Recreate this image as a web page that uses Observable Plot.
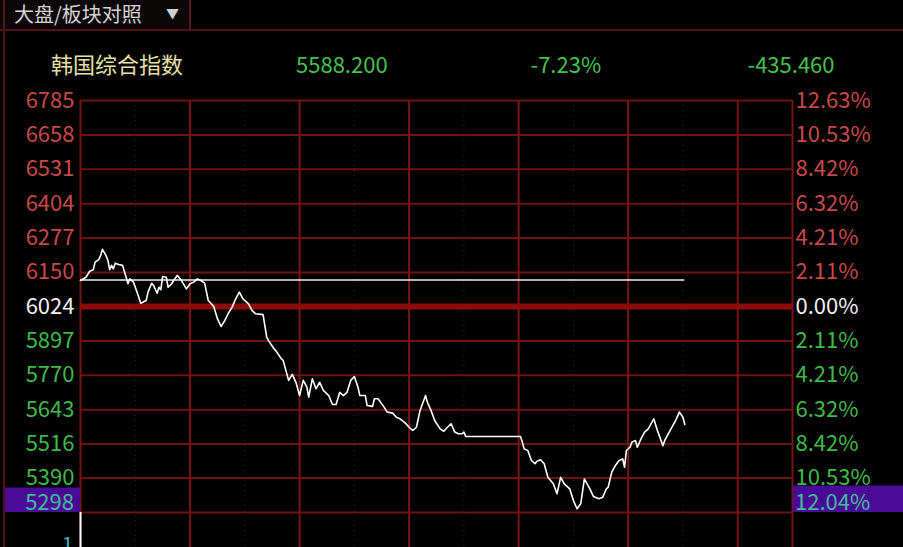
<!DOCTYPE html>
<html><head><meta charset="utf-8">
<script src="https://cdn.jsdelivr.net/npm/d3@7"></script>
<script src="https://cdn.jsdelivr.net/npm/@observablehq/plot@0.6"></script>
<style>
html,body{margin:0;padding:0;background:#000;}
#wrap{position:relative;width:903px;height:547px;overflow:hidden;background:#000;font-family:"Noto Sans CJK SC","Noto Sans",sans-serif;}
#wrap svg{position:absolute;left:0;top:0;}
.hdr{position:absolute;white-space:nowrap;line-height:1;}
</style></head><body><div id="wrap"></div>
<script>
// ---- header texts ----
const panelTitle = "大盘/板块对照";
const indexName = "韩国综合指数";
const lastPrice = "5588.200";
const changePct = "-7.23%";
const changeAbs = "-435.460";

// ---- intraday series: minutes after 09:00, index level ----
const minutes = [0,3,5,7,8,10,11,12,14,15,16,17,18,19,21,23,25,26,27,29,31,33,36,37,39,40,42,43,44,45,47,48,50,51,53,55,58,60,62,64,66,68,70,73,75,77,79,81,83,85,87,89,92,94,96,100,102,103,106,107,110,111,114,116,118,120,122,124,125,127,129,131,133,136,138,140,142,144,146,148,150,152,153,156,157,160,161,163,166,168,171,173,175,178,180,182,184,186,189,190,192,194,197,199,201,203,205,207,209,210,211,241,242,243,245,247,249,250,252,254,256,259,261,263,265,268,270,272,274,276,279,281,284,286,288,289,291,293,295,297,298,299,301,302,304,305,307,309,311,314,316,319,320,323,326,328,330,331];
const prices = [6120,6132,6154,6160,6188,6197,6212,6235,6212,6194,6160,6176,6163,6184,6179,6176,6132,6108,6126,6114,6077,6036,6046,6077,6110,6102,6073,6095,6086,6135,6132,6095,6108,6120,6139,6123,6089,6108,6114,6126,6120,6110,6046,6024,5979,5950,5972,5999,6021,6052,6077,6052,6034,6009,5997,5994,5911,5898,5868,5861,5831,5825,5751,5773,5744,5695,5751,5726,5689,5757,5720,5744,5714,5695,5662,5662,5707,5695,5707,5751,5765,5726,5695,5695,5658,5655,5683,5683,5655,5634,5630,5615,5609,5593,5578,5566,5578,5640,5695,5670,5640,5603,5572,5563,5578,5591,5560,5554,5554,5560,5544,5544,5523,5498,5492,5455,5443,5452,5458,5443,5393,5369,5332,5393,5369,5350,5307,5277,5295,5387,5350,5322,5314,5319,5350,5356,5412,5437,5455,5461,5430,5492,5504,5523,5529,5504,5535,5560,5572,5609,5566,5510,5529,5566,5603,5634,5615,5588];
const refLevel = 6122;          // flat comparison line
const prevClose = 6024;

// ---- axes ----
const leftTicks = [6785,6658,6531,6404,6277,6150,6024,5897,5770,5643,5516,5390];
const rightLabels = ["12.63%","10.53%","8.42%","6.32%","4.21%","2.11%","0.00%","2.11%","4.21%","6.32%","8.42%","10.53%"];
const bottomLevel = 5263;
const lowValue = 5298;
const lowLabel = "12.04%";
const volumeLabel = "1";
const hourLines = [0,60,120,180,240,300,360,390];
const halfHourLines = [30,90,150,210,270,330];
const yDomain = [5133.7, 6785];
const xDomain = [0, 390];

const series = minutes.map((t, i) => ({t, p: prices[i]}));
const tickData = leftTicks.map((v, i) => ({v, r: rightLabels[i]}));
const colorFor = v => v > prevClose ? "#c84848" : v < prevClose ? "#3fba48" : "#f2f2f2";

const FONT = '"Noto Sans CJK SC","Noto Sans",sans-serif';
const FS = 22;
const lastT = minutes[minutes.length - 1];

const plot = Plot.plot({
  width: 903, height: 547,
  marginLeft: 80, marginRight: 111, marginTop: 100, marginBottom: 0,
  style: {background: "transparent", fontFamily: FONT},
  x: {domain: xDomain, axis: null},
  y: {domain: yDomain, axis: null},
  marks: [
    Plot.ruleX(halfHourLines, {stroke: "#3e2424", strokeWidth: 1, strokeDasharray: "1,4"}),
    Plot.ruleY(leftTicks.filter(v => v !== prevClose).concat([bottomLevel]), {stroke: "#701212", strokeWidth: 2}),
    Plot.ruleX(hourLines, {stroke: "#7a1414", strokeWidth: 2}),
    Plot.ruleY([prevClose], {stroke: "#8e0a0a", strokeWidth: 6}),
    Plot.ruleX([0], {y1: bottomLevel, y2: yDomain[0], stroke: "#ffffff", strokeWidth: 2}),
    Plot.ruleY([refLevel], {x1: 0, x2: lastT, stroke: "#f2f2e8", strokeWidth: 1.6}),
    Plot.line(series, {x: "t", y: "p", stroke: "#ffffff", strokeWidth: 1.6}),
    Plot.text(tickData, {x: () => xDomain[0], y: "v", text: d => String(d.v), dx: -6, textAnchor: "end", fill: d => colorFor(d.v), fontSize: FS}),
    Plot.text(tickData, {x: () => xDomain[1], y: "v", text: "r", dx: 3, textAnchor: "start", fill: d => colorFor(d.v), fontSize: FS})
  ]
});

const wrap = document.getElementById("wrap");
wrap.appendChild(plot);

const ys = plot.scale("y");
const yLow = ys.apply(lowValue);
const yBottom = ys.apply(bottomLevel);
const svg = d3.select(plot);

// header strip background (behind everything)
svg.insert("rect", ":first-child").attr("x", 0).attr("y", 0).attr("width", 190).attr("height", 30).attr("fill", "#0c0707");

// low-value highlight bands (positions from the plot's own y scale), drawn above the tick labels
const bandTop = yLow - 15;
svg.append("rect").attr("x", 5).attr("y", bandTop).attr("width", 75).attr("height", yBottom - bandTop).attr("fill", "#4a0a98");
svg.append("rect").attr("x", 793).attr("y", bandTop - 2).attr("width", 110).attr("height", yBottom - bandTop + 2).attr("fill", "#4a0a98");
svg.append("text").attr("x", 74).attr("y", yLow).attr("dy", "0.35em").attr("text-anchor", "end").attr("fill", "#46b89a").attr("font-size", FS).attr("font-family", FONT).text(String(lowValue));
svg.append("text").attr("x", 795).attr("y", yLow).attr("dy", "0.35em").attr("text-anchor", "start").attr("fill", "#46b89a").attr("font-size", FS).attr("font-family", FONT).text(lowLabel);
svg.append("text").attr("x", 73).attr("y", 552).attr("text-anchor", "end").attr("fill", "#38b6c8").attr("font-size", 20).attr("font-family", FONT).text(volumeLabel);
// frame lines of the panel
svg.append("line").attr("x1", 0).attr("x2", 903).attr("y1", 30).attr("y2", 30).attr("stroke", "#4e1414").attr("stroke-width", 2);
svg.append("line").attr("x1", 190).attr("x2", 190).attr("y1", 0).attr("y2", 30).attr("stroke", "#5a1a1a").attr("stroke-width", 2);
svg.append("line").attr("x1", 4).attr("x2", 4).attr("y1", 0).attr("y2", 547).attr("stroke", "#4a1616").attr("stroke-width", 2);

// header texts (HTML)
function hdr(text, left, top, size, color) {
  const d = document.createElement("div");
  d.className = "hdr";
  d.textContent = text;
  Object.assign(d.style, {left: left + "px", top: top + "px", fontSize: size + "px", color});
  wrap.appendChild(d);
  return d;
}
hdr(panelTitle, 14, 4, 20, "#d4d4d4");
hdr("▼", 166, 6, 13, "#cfcfcf");
hdr(indexName, 51, 52, 22, "#e6e0a6");
const c1 = hdr(lastPrice, 0, 52, 22, "#44c24c");
const c2 = hdr(changePct, 0, 52, 22, "#44c24c");
const c3 = hdr(changeAbs, 0, 52, 22, "#44c24c");
[[c1, 342], [c2, 566], [c3, 791]].forEach(([el, cx]) => {
  el.style.left = (cx - el.offsetWidth / 2) + "px";
});
</script>
</body></html>
